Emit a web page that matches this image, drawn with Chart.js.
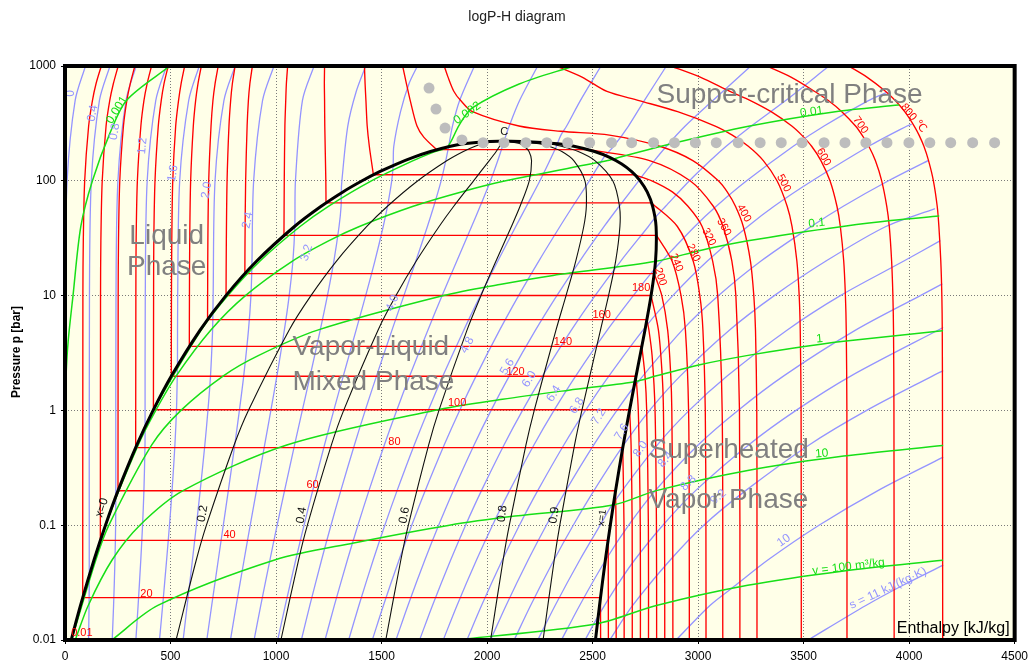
<!DOCTYPE html>
<html><head><meta charset="utf-8">
<script src="https://cdn.jsdelivr.net/npm/chart.js@4.4.0/dist/chart.umd.min.js"></script>
<style>html,body{margin:0;padding:0;background:#fff;}canvas{display:block;}</style>
</head><body>
<canvas id="c" width="1033" height="666"></canvas>
<script>
// ---------------- DATA (enthalpy h [kJ/kg], pressure p [bar]) ----------------
const xTickStep = 500;
const yTickValues = [0.01, 0.1, 1, 10, 100, 1000];

// saturation dome (liquid side -> critical point -> vapour side)
const domeCurve = [[29.3,0.01],[73.4,0.02],[137.8,0.05],[191.8,0.1],[251.4,0.2],[340.5,0.5],[417.5,1],[504.7,2],[640.1,5],[762.5,10],[908.5,20],[1087.4,40],[1213.8,60],[1317,80],[1408.1,100],[1491,120],[1571,140],[1650,160],[1732,180],[1826.6,200],[1888,210],[2011,220],[2084.3,220.64],[2163,220],[2336,210],[2411.4,200],[2509.5,180],[2580.8,160],[2638.1,140],[2685.4,120],[2725.5,100],[2758.7,80],[2784.6,60],[2800.8,40],[2798.3,20],[2777.1,10],[2748.1,5],[2706.2,2],[2675,1],[2645.2,0.5],[2608.9,0.2],[2583.9,0.1],[2560.7,0.05],[2532.9,0.02],[2513.7,0.01]];

// quality lines
const qualityX = ['0.2','0.4','0.6','0.8','0.9'];
const qualityP = [0.01,0.05,0.1,0.5,1,5,10,20,40,60,100,150,180,200,210,220,220.64];
const qualityH = [
  [526.2,622.4,670.2,801.4,869,1061.7,1165.4,1286.5,1430.1,1528,1672,1810.5,1887.6,1943.2,1978.6,2041.4,2084.3],
  [1023.1,1107,1148.6,1262.4,1320.5,1483.3,1568.3,1664.4,1772.8,1842.1,1936,2010.6,2043.2,2059.8,2067.2,2071.8,2084.3],
  [1520,1591.6,1627,1723.3,1772,1904.9,1971.3,2042.4,2115.4,2156.3,2199.9,2210.7,2198.8,2176.5,2156.8,2102.2,2084.3],
  [2016.8,2076.2,2105.5,2184.3,2223.5,2326.5,2374.2,2420.3,2458.1,2470.4,2463.9,2410.8,2354.4,2293.1,2246.4,2132.6,2084.3],
  [2265.3,2318.5,2344.7,2414.7,2449.3,2537.3,2575.6,2609.3,2629.5,2627.5,2595.8,2510.9,2432.2,2351.4,2291.2,2147.8,2084.3]
];

// isotherms [°C]
const isothermT = [20,40,60,80,100,120,140,160,180,200,240,280,320,360,400,500,600,700,800];
const isothermCurves = [
  [[172,1000],[147,700],[130,500],[112,300],[93.3,100],[86.7,30],[84.8,10],[83.9,0.0234],[2537.4,0.0234],[2538.1,0.01]],
  [[252,1000],[229,700],[212,500],[194.6,300],[176.4,100],[170,30],[168.4,10],[167.5,0.0738],[2573.5,0.0738],[2574.2,0.05],[2574.9,0.01]],
  [[331,1000],[309,700],[293,500],[277,300],[259.6,100],[253.5,30],[252,10],[251.1,0.1994],[2608.8,0.1994],[2611.2,0.1],[2611.8,0.01]],
  [[410,1000],[389,700],[374,500],[359.5,300],[343,100],[337,30],[335.8,10],[334.9,0.474],[2643,0.474],[2648.9,0.1],[2649.6,0.01]],
  [[489,1000],[469,700],[456,500],[442,300],[426.5,100],[420.8,30],[419.8,10],[419,1.014],[2675.6,1.014],[2682.4,0.5],[2687.5,0.1],[2688,0.01]],
  [[567,1000],[550,700],[538,500],[524.5,300],[510.6,100],[506,30],[504.4,10],[503.7,1.985],[2705.9,1.985],[2716.6,1],[2726,0.1],[2726.6,0.01]],
  [[646,1000],[630,700],[619,500],[608,300],[595.4,100],[591,30],[589.7,10],[589.1,3.61],[2733.4,3.61],[2748.3,2],[2756.4,1],[2764.4,0.1],[2765,0.01]],
  [[726,1000],[711,700],[701,500],[692,300],[681,100],[677,30],[675.9,10],[675.5,6.18],[2757.4,6.18],[2767,5],[2782,3],[2796,1],[2802.6,0.1],[2803.5,0.01]],
  [[806,1000],[793,700],[785,500],[777,300],[768,100],[764.5,30],[763.1,10.03],[2777.2,10.03],[2812,5],[2830,2],[2835.8,1],[2841,0.1],[2842,0.01]],
  [[888,1000],[876,700],[869,500],[863,300],[856,100],[853,30],[852.3,15.54],[2792,15.54],[2828,10],[2855.8,5],[2870.5,2],[2875.5,1],[2879.7,0.1],[2880.5,0.01]],
  [[1055,1000],[1049,700],[1046,500],[1042,300],[1039,100],[1037.6,33.5],[2803.2,33.5],[2876.5,20],[2919.2,10],[2939.9,5],[2954.9,1],[2958,0.1],[2958.5,0.01]],
  [[1230,1000],[1229,700],[1230,500],[1231,300],[1236,100],[1236.8,64.2],[2779.6,64.2],[2901.8,40],[2976.6,20],[3008.2,10],[3022.9,5],[3034,1],[3037,0.1],[3037.5,0.01]],
  [[1419,1000],[1422,700],[1426,500],[1432,300],[1442,200],[1461.5,112.8],[2698.6,112.8],[2781,100],[2878,80],[2952,60],[3019,40],[3069,20],[3093,10],[3114,1],[3117,0.01]],
  [[1600,1000],[1618,700],[1636,500],[1668,300],[1700,240],[1761,186.7],[2481,186.7],[2770,150],[2962,100],[3072,60],[3118,40],[3160,20],[3179,10],[3196,1],[3198,0.01]],
  [[1797,1000],[1815,800],[1843,600],[1875,500],[1931,400],[2151,300],[2350,270],[2580,250],[2818,200],[2975,150],[3096,100],[3138,80],[3177,60],[3214,40],[3248,20],[3264,10],[3272,5],[3278,1],[3279,0.1],[3279,0.01]],
  [[2327,1000],[2450,800],[2568,600],[2720,500],[2903,400],[3081,300],[3162,250],[3238,200],[3309,150],[3374,100],[3422,60],[3445,40],[3468,20],[3479,10],[3484,5],[3488,1],[3489,0.01]],
  [[2870,1000],[3010,800],[3151,600],[3248,500],[3346,400],[3444,300],[3491,250],[3538,200],[3582,150],[3625,100],[3658,60],[3674,40],[3690,20],[3698,10],[3702,5],[3705,1],[3705.5,0.01]],
  [[3325,1000],[3440,800],[3553,600],[3617,500],[3681,400],[3746,300],[3777,250],[3809,200],[3840,150],[3870,100],[3894,60],[3906,40],[3917,20],[3923,10],[3926,5],[3928,1],[3929,0.01]],
  [[3713,1000],[3800,800],[3889,600],[3934,500],[3979,400],[4024,300],[4047,250],[4070,200],[4092,150],[4115,100],[4133,60],[4141,40],[4150,20],[4155,10],[4157,5],[4158,1],[4159,0.01]]
];

// isentropes s [kJ/(kg K)]
const isentropeS = [0,0.4,0.8,1.2,1.6,2.0,2.4,2.8,3.2,3.6,4.0,4.4,4.8,5.2,5.6,6.0,6.4,6.8,7.2,7.6,8.0,8.4,8.8,9.2,10,11];
const isentropeCurves = [
  [[97,1000],[48,500],[10,100],[1,10],[0,0.01]],
  [[213,1000],[163,500],[124.8,100],[115.9,10],[114.9,0.0366],[114,0.02],[111.7,0.01]],
  [[337,1000],[289,500],[250.8,100],[241.7,10],[240.7,0.175],[239.9,0.1],[236.8,0.05],[230.2,0.02],[223.7,0.01]],
  [[481,1000],[430,500],[389.5,100],[380.4,10],[379.5,0.72],[379.1,0.5],[374,0.2],[367.5,0.1],[359.2,0.05],[346.4,0.02],[335.8,0.01]],
  [[636,1000],[586,500],[543.5,100],[534,10],[533,2.43],[532.1,2],[528.2,1],[520.8,0.5],[507.3,0.2],[495,0.1],[481.6,0.05],[462.7,0.02],[447.8,0.01]],
  [[806,1000],[753,500],[711,100],[702,10],[700.8,7.1],[699.4,5],[689.5,2],[677.3,1],[662.6,0.5],[640.6,0.2],[622.6,0.1],[604,0.05],[578.9,0.02],[559.8,0.01]],
  [[990,1000],[936,500],[894,100],[885.6,17.9],[881.1,10],[869.4,5],[846.9,2],[826.4,1],[804.4,0.5],[773.9,0.2],[750.2,0.1],[726.4,0.05],[695.2,0.02],[671.9,0.01]],
  [[1180,1000],[1125,500],[1092,100],[1089,40.4],[1079.9,20],[1062.3,10],[1039.4,5],[1004.2,2],[975.5,1],[946.1,0.5],[907.2,0.2],[877.7,0.1],[848.8,0.05],[811.4,0.02],[784,0.01]],
  [[1425,1000],[1380,600],[1340,300],[1312,100],[1309,79.2],[1308.3,60],[1298.6,40],[1274.1,20],[1243.5,10],[1209.4,5],[1161.6,2],[1124.5,1],[1087.9,0.5],[1040.4,0.2],[1005.3,0.1],[971.2,0.05],[927.7,0.02],[896,0.01]],
  [[1670,1000],[1630,700],[1590,400],[1558,200],[1555,136],[1548.2,100],[1527.9,60],[1507.9,40],[1468.3,20],[1424.7,10],[1379.4,5],[1318.9,2],[1273.6,1],[1229.6,0.5],[1173.7,0.2],[1132.8,0.1],[1093.6,0.05],[1043.9,0.02],[1008,0.01]],
  [[1940,1000],[1870,500],[1836,300],[1817.7,198],[1804.5,150],[1782.3,100],[1747.5,60],[1717.3,40],[1662.5,20],[1605.9,10],[1549.4,5],[1476.3,2],[1422.7,1],[1371.4,0.5],[1307,0.2],[1260.4,0.1],[1216,0.05],[1160.1,0.02],[1120,0.01]],
  [[2240,1000],[2154,500],[2105,300],[2080,220.5],[2073.2,200],[2050.8,150],[2016.4,100],[1967.1,60],[1926.7,40],[1856.7,20],[1787.1,10],[1719.4,5],[1633.7,2],[1571.8,1],[1513.2,0.5],[1440.3,0.2],[1388,0.1],[1338.4,0.05],[1276.4,0.02],[1232.1,0.01]],
  [[2540,1000],[2442,500],[2377,300],[2350,250],[2333,210.5],[2328.7,200],[2297.1,150],[2250.5,100],[2186.7,60],[2136,40],[2050.9,20],[1968.3,10],[1889.4,5],[1791,2],[1720.9,1],[1654.9,0.5],[1573.6,0.2],[1515.5,0.1],[1460.8,0.05],[1392.6,0.02],[1344.1,0.01]],
  [[2850,1000],[2745,500],[2670,300],[2600,200],[2560,166],[2543.3,150],[2484.5,100],[2406.3,60],[2345.4,40],[2245.1,20],[2149.5,10],[2059.4,5],[1948.4,2],[1869.9,1],[1796.7,0.5],[1706.8,0.2],[1643.1,0.1],[1583.2,0.05],[1508.8,0.02],[1456.2,0.01]],
  [[3250,1000],[3070,500],[2939,300],[2850,200],[2793,150],[2721,102],[2718.6,100],[2625.9,60],[2554.7,40],[2439.3,20],[2330.7,10],[2229.4,5],[2105.7,2],[2019,1],[1938.4,0.5],[1840.1,0.2],[1770.6,0.1],[1705.6,0.05],[1625.1,0.02],[1568.2,0.01]],
  [[3620,1000],[3415,500],[3252,300],[3133,200],[3058,150],[2959,100],[2846,60],[2796,47.7],[2764.1,40],[2633.5,20],[2511.9,10],[2399.4,5],[2263.1,2],[2168.1,1],[2080.2,0.5],[1973.4,0.2],[1898.2,0.1],[1828,0.05],[1741.3,0.02],[1680.2,0.01]],
  [[3895,590],[3807,500],[3597,300],[3451,200],[3230,100],[3086,60],[2984,40],[2828,20],[2794,17.1],[2693.1,10],[2569.4,5],[2420.5,2],[2317.2,1],[2222,0.5],[2106.7,0.2],[2025.8,0.1],[1950.4,0.05],[1857.5,0.02],[1792.3,0.01]],
  [[4010,310],[3990,300],[3809,200],[3541,100],[3360,60],[3235,40],[3044,20],[2880,10],[2751,5.35],[2577.8,2],[2466.3,1],[2363.7,0.5],[2240,0.2],[2153.3,0.1],[2072.8,0.05],[1973.8,0.02],[1904.3,0.01]],
  [[4090,150],[3902,100],[3688,60],[3536,40],[3298,20],[3097,10],[2925,5],[2696,1.6],[2615.3,1],[2505.5,0.5],[2373.2,0.2],[2280.9,0.1],[2195.2,0.05],[2090,0.02],[2016.3,0.01]],
  [[4120,57],[3890,40],[3606,20],[3361,10],[3148,5],[2916,2],[2770,1],[2644,0.49],[2506.5,0.2],[2408.4,0.1],[2317.6,0.05],[2206.3,0.02],[2128.4,0.01]],
  [[4146,30],[3975,20],[3674,10],[3421,5],[3139,2],[2958,1],[2807,0.5],[2597,0.155],[2536,0.1],[2440,0.05],[2322.5,0.02],[2240.4,0.01]],
  [[4155,12.6],[4053,10],[3746,5],[3406,2],[3189,1],[3000,0.5],[2797,0.2],[2671,0.1],[2560,0.049],[2438.7,0.02],[2352.5,0.01]],
  [[4159,5.25],[3725,2],[3464,1],[3239,0.5],[2988,0.2],[2833,0.1],[2700,0.05],[2617,0.03],[2527,0.0162],[2464.5,0.01]],
  [[4159,2.21],[4112,2],[3799,1],[3526,0.5],[3225,0.2],[3027,0.1],[2869,0.05],[2690,0.02],[2581,0.01]],
  [[4159,0.39],[3852,0.2],[3573,0.1],[3332,0.05],[3178,0.03],[3056,0.02],[2896,0.01]],
  [[4159,0.0447],[3971,0.03],[3795,0.02],[3521,0.01]]
];

// isochores v [m3/kg]
const isochoreV = [0.001,0.002,0.01,0.1,1,10,100];
const isochoreCurves = [
  [[497,1000],[293,506],[213,260],[130,100],[75,40],[38,10],[15,4],[5,2],[1,1],[0,0.3],[0,0.01]],
  [[2412,1000],[2152,697],[1930,431],[1868,306],[1812,197],[1754,180],[1650,150],[1452,100],[1248.2,60],[1113.8,40],[924.3,20],[771.6,10],[645.2,5],[418.6,1],[340.6,0.5],[191.9,0.1],[137.8,0.05],[29.3,0.01]],
  [[3950,457],[3650,400],[3245,300],[2825,200],[2600,155],[2572,150],[2088,100],[1878,80],[1650,60],[1395,40],[1249,30],[1077.8,20],[855,10],[690.3,5],[526.9,2],[430,1],[346.9,0.5],[193,0.1],[29.4,0.01]],
  [[4140,49.3],[3913,45],[3685,40],[3460,35],[3236,30],[3020,25],[2800,19.9],[2312.9,15],[2060,12.5],[1794,10],[1197,5],[915.8,3],[750.6,2],[549.4,1],[411.1,0.5],[208,0.1],[146.4,0.05],[31.2,0.01]],
  [[4158,4.94],[3690,4],[3455,3.5],[3230,3],[3008,2.5],[2803,2],[2693,1.77],[2387.4,1.5],[2073,1.25],[1749.5,1],[1051,0.5],[559.3,0.2],[354.8,0.1],[223.8,0.05],[110.1,0.02],[48.5,0.01]],
  [[4158,0.495],[3690,0.4],[3235,0.3],[2802,0.2],[2598,0.15],[2132,0.12],[1822,0.1],[1368,0.07],[997,0.05],[440,0.02],[221.6,0.01]],
  [[4158,0.0495],[3690,0.04],[3235,0.03],[2802,0.02],[2515,0.0138],[1850,0.01]]
];

// grey dots (critical isotherm / critical pressure)
const critDotsH = [1725,1758,1801,1881,1981,2080,2184,2283,2382,2486,2590,2685,2789,2888,2987,3086,3190,3294,3394,3493,3597,3696,3795,3895,3999,4098,4197,4301,4405];
const critDotsP = [643,422,288,227,215,215,215,215,215,215,215,215,215,215,215,215,215,215,215,215,215,215,215,215,215,215,215,215,215];

// annotation texts: [text, h, p, rotation deg]
const isothermLabels = [["0.01",80,0.0115,0],["20",386,0.0254,0],["40",780,0.083,0],["60",1173,0.226,0],["80",1561,0.527,0],["100",1858,1.16,0],["120",2135,2.16,0],["140",2359,3.97,0],["160",2543,6.84,0],["180",2730,11.6,0],["200",2822,14.6,72],["240",2897,19.4,68],["280",2978,23.6,65],["320",3051,32.4,62],["360",3122,39.5,60],["400",3217,52.2,60],["500",3406,95.5,62],["600",3595,161,60],["700",3770,306,55],["800 ℃",4021,352,50]];
const qualityLabels = [["x=0",175,0.142,-72],["0.2",653,0.126,-80],["0.4",1121,0.122,-80],["0.6",1608,0.122,-80],["0.8",2072,0.126,-82],["0.9",2318,0.122,-82]];
const isentropeLabels = [["0",27,578,-90],["0.4",131,387,-80],["0.8",236,268,-80],["1.2",367,201,-85],["1.6",512,116,-80],["2.0",671,83,-80],["2.4",866,45.4,-78],["3.2",1145,23.6,-72],["4.0",1552,8.6,-68],["4.8",1906,3.7,-62],["5.6",2096,2.39,-58],["6.0",2200,1.87,-58],["6.4",2316,1.40,-58],["6.8",2426,1.10,-58],["7.2",2529,0.88,-58],["7.6",2639,0.65,-58],["8.0",2727,0.46,-55],["8.4",2846,0.373,-50],["8.8",2954,0.233,-45],["9.2",3096,0.176,-40],["10",3406,0.0736,-35],["s = 11 kJ/(kg·K)",3900,0.0282,-25]];
const isochoreLabels = [["0.001",246,414,-58],["0.002",1906,389,-35],["0.01",3538,398,-8],["0.1",3562,42.7,-6],["1",3576,4.2,-5],["10",3586,0.42,-5],["v = 100 m³/kg",3713,0.0434,-7]];
const phaseTexts = [["Liquid",482,28.1,"center"],["Phase",482,15.1,"center"],["Vapor-Liquid",1078,3.04,"left"],["Mixed Phase",1078,1.505,"left"],["Superheated",2765,0.385,"left"],["Vapor Phase",2765,0.141,"left"],["Supper-critical Phase",2803,476,"left"]];

// ---------------- CHART ----------------
const FAM = '"Liberation Sans", Arial, "DejaVu Sans", sans-serif';
Chart.defaults.font.family = FAM;

function toPts(c){ return c.map(q => ({x:q[0], y:q[1]})); }
function withCorners(c){
  const out = [];
  for (let i = 0; i < c.length; i++) {
    const pt = {x:c[i][0], y:c[i][1]};
    out.push(pt);
    const hp = i > 0 && c[i-1][1] === c[i][1];
    const hn = i < c.length-1 && c[i+1][1] === c[i][1];
    if (hp !== hn) out.push({x:pt.x, y:pt.y});
  }
  return out;
}
const datasets = [];
function line(data, color, width, order, tension){
  datasets.push({data, borderColor:color, borderWidth:width, pointRadius:0, pointHoverRadius:0, fill:false, tension, order, borderJoinStyle:'round', borderCapStyle:'round'});
}
const BLUE = '#9494ff', RED = '#ff0000', GREEN = '#17df17';
isentropeCurves.forEach(c => line(toPts(c), BLUE, 1.3, 5, 0.3));
isothermCurves.forEach(c => line(withCorners(c), RED, 1.35, 4, 0.3));
isochoreCurves.forEach(c => line(toPts(c), GREEN, 1.5, 3, 0.3));
qualityH.forEach(hs => line(hs.map((h,i) => ({x:h, y:qualityP[i]})), '#111', 1.1, 2, 0.3));
line(toPts(domeCurve), '#000', 3, 1, 0.3);
datasets.push({data: critDotsH.map((h,i) => ({x:h, y:critDotsP[i]})), showLine:false, pointRadius:5.5, pointBackgroundColor:'#bdbdbd', pointBorderWidth:0, order:0});

function txt(ctx, chart, t, h, p, rot, color, font, align){
  const x = chart.scales.x.getPixelForValue(h), y = chart.scales.y.getPixelForValue(p);
  ctx.save(); ctx.translate(x, y); ctx.rotate(rot*Math.PI/180);
  ctx.fillStyle = color; ctx.font = font; ctx.textAlign = align || 'center'; ctx.textBaseline = 'middle';
  ctx.fillText(t, 0, 0); ctx.restore();
}

const deco = {
  id:'deco',
  beforeDraw(chart){
    const {ctx, chartArea:a} = chart;
    ctx.save(); ctx.fillStyle = '#fff'; ctx.fillRect(0,0,chart.width,chart.height);
    ctx.fillStyle = '#ffffe8'; ctx.fillRect(a.left, a.top, a.right-a.left, a.bottom-a.top); ctx.restore();
  },
  afterDatasetsDraw(chart){
    const {ctx, chartArea:a} = chart;
    ctx.save();
    ctx.beginPath(); ctx.rect(a.left, a.top, a.right-a.left, a.bottom-a.top); ctx.clip();
    isothermLabels.forEach(l => txt(ctx, chart, l[0], l[1], l[2], l[3], RED, '11px '+FAM));
    qualityLabels.forEach(l => txt(ctx, chart, l[0], l[1], l[2], l[3], '#111', '12px '+FAM));
    txt(ctx, chart, 'x=1', 2545, 0.116, -82, '#111', '10px '+FAM);
    txt(ctx, chart, 'C', 2081, 266, 0, '#111', '11px '+FAM);
    isentropeLabels.forEach(l => txt(ctx, chart, l[0], l[1], l[2], l[3], BLUE, '12px '+FAM));
    isochoreLabels.forEach(l => txt(ctx, chart, l[0], l[1], l[2], l[3], GREEN, '12px '+FAM));
    phaseTexts.forEach(l => {
      const x = chart.scales.x.getPixelForValue(l[1]), y = chart.scales.y.getPixelForValue(l[2]);
      ctx.fillStyle = '#808080'; ctx.font = '28px '+FAM; ctx.textAlign = l[3]; ctx.textBaseline = 'alphabetic';
      ctx.fillText(l[0], x, y);
    });
    ctx.fillStyle = '#000'; ctx.font = '16px '+FAM; ctx.textAlign = 'right'; ctx.textBaseline = 'alphabetic';
    ctx.fillText('Enthalpy [kJ/kg]', a.right-5, a.bottom-7);
    ctx.restore();
    // thick frame
    ctx.save(); ctx.strokeStyle = '#000'; ctx.lineWidth = 4;
    ctx.strokeRect(a.left, a.top, a.right-a.left, a.bottom-a.top); ctx.restore();
    // titles
    ctx.save(); ctx.fillStyle = '#222'; ctx.font = '14px '+FAM; ctx.textAlign = 'center'; ctx.textBaseline = 'alphabetic';
    ctx.fillText('logP-H diagram', 517, 21);
    ctx.translate(17, 352); ctx.rotate(-Math.PI/2);
    ctx.fillStyle = '#000'; ctx.font = 'bold 12px '+FAM; ctx.textBaseline = 'middle';
    ctx.fillText('Pressure p [bar]', 0, 0);
    ctx.restore();
  }
};

new Chart(document.getElementById('c'), {
  type:'line',
  data:{datasets},
  options:{
    responsive:false, animation:false, devicePixelRatio:1, events:[],
    layout:{padding:{top:66, right:16, bottom:0, left:0}},
    plugins:{legend:{display:false}, tooltip:{enabled:false}, title:{display:false}},
    scales:{
      x:{type:'linear', min:0, max:4500,
         ticks:{stepSize:xTickStep, color:'#000', font:{size:12}, padding:5, maxRotation:0, autoSkip:false, callback:v => String(v)},
         grid:{color:'#7a7a7a', lineWidth:1, tickLength:4, tickColor:'#000'},
         border:{display:false, dash:[1,2]},
         afterFit:s => { s.height = 26; }},
      y:{type:'logarithmic', min:0.01, max:1000,
         afterBuildTicks:s => { s.ticks = yTickValues.map(v => ({value:v})); },
         ticks:{color:'#000', font:{size:12}, padding:5, autoSkip:false, callback:v => String(v)},
         grid:{color:'#7a7a7a', lineWidth:1, tickLength:4, tickColor:'#000'},
         border:{display:false, dash:[1,2]},
         afterFit:s => { s.width = 65; }}
    }
  },
  plugins:[deco]
});
</script>
</body></html>
